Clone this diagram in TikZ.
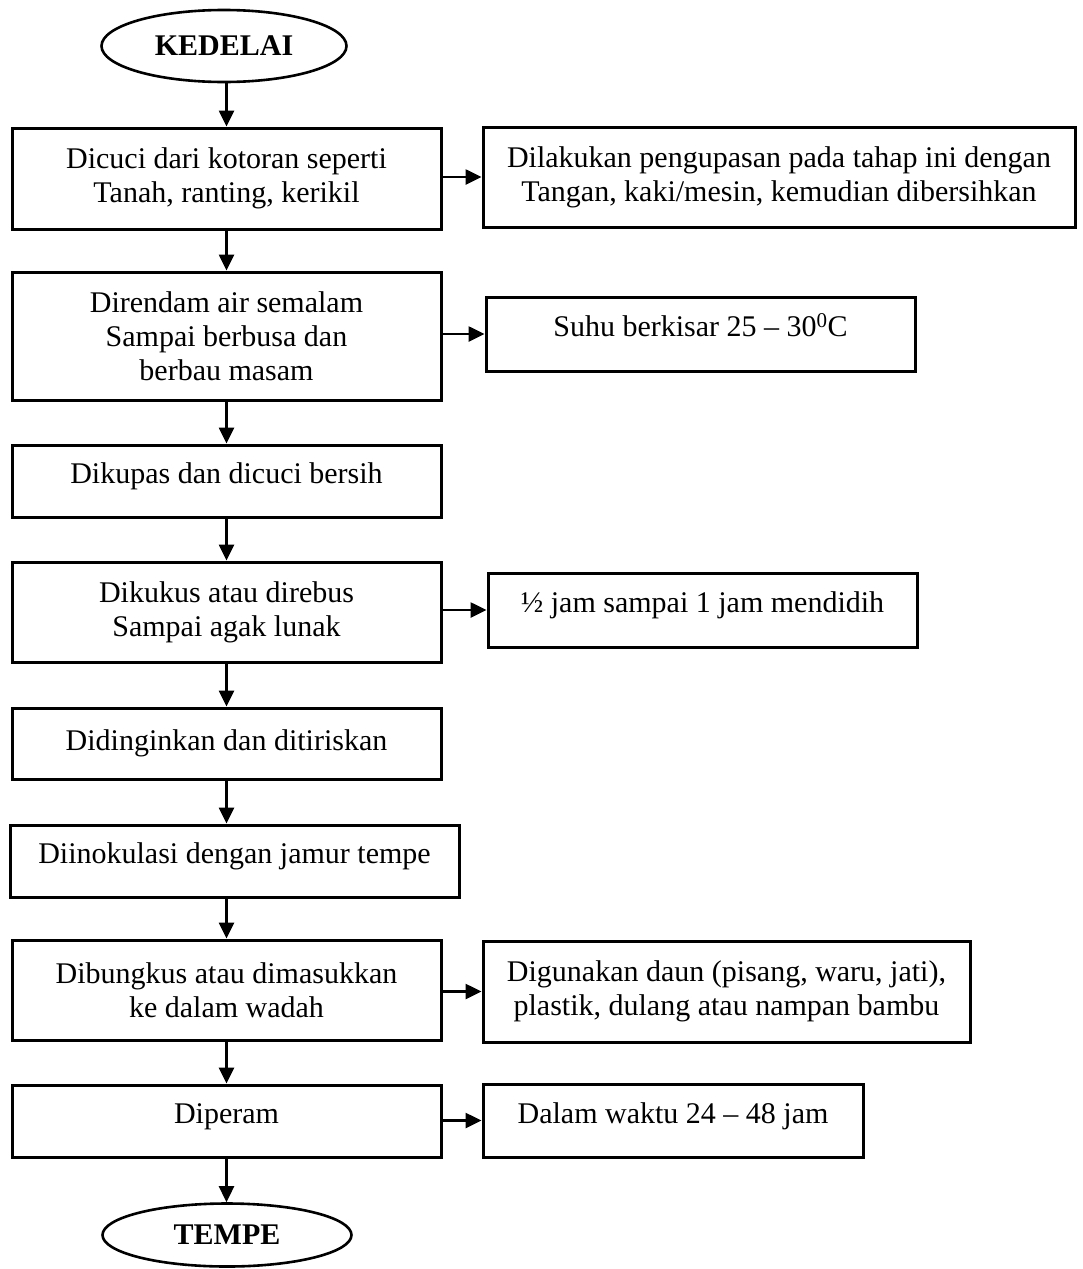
\documentclass[tikz,border=0pt]{standalone}
\usepackage{fontspec}
\setmainfont{Liberation Serif}
\usetikzlibrary{arrows.meta,shapes.geometric}
\definecolor{custcol_0_0_0}{RGB}{0, 0, 0}
\tikzset{
  stepbox/.style={draw=custcol_0_0_0, line width=3pt, rectangle, align=center, inner sep=0pt,
    font=\fontsize{30pt}{34pt}\selectfont},
  raised/.style={text height=21pt, text depth=16pt},
  endcap/.style={draw=custcol_0_0_0, line width=2.6pt, ellipse, inner sep=0pt,
    font=\fontsize{30pt}{34pt}\selectfont\bfseries},
  flowarrow/.style={draw=custcol_0_0_0, line width=2.6pt, -{Triangle[length=16pt,width=15pt]}}
}
\begin{document}
\begin{tikzpicture}[x=1pt,y=-1pt]
\useasboundingbox (0,0) rectangle (1083,1269);
\node[endcap, minimum width=245, minimum height=72] (kedelai) at (224,46) {KEDELAI};
\node[stepbox, minimum width=429, minimum height=101] (cuci) at (226.5,178.5) {Dicuci dari kotoran seperti\\Tanah, ranting, kerikil};
\node[stepbox, minimum width=592, minimum height=100] (kupasTangan) at (779,177) {Dilakukan pengupasan pada tahap ini dengan\\Tangan, kaki/mesin, kemudian dibersihkan};
\node[stepbox, minimum width=429, minimum height=128] (rendam) at (226.5,336) {Direndam air semalam\\Sampai berbusa dan\\berbau masam};
\node[stepbox, raised, minimum width=429, minimum height=74] (suhu) at (700.5,334) {Suhu berkisar 25 -- 30\textsuperscript{0}C};
\node[stepbox, raised, minimum width=429, minimum height=72] (kupas) at (226.5,481) {Dikupas dan dicuci bersih};
\node[stepbox, minimum width=429, minimum height=100] (kukus) at (226.5,612) {Dikukus atau direbus\\Sampai agak lunak};
\node[stepbox, raised, minimum width=429, minimum height=74] (rebusWaktu) at (702.5,610) {½ jam sampai 1 jam mendidih};
\node[stepbox, minimum width=429, minimum height=71] (dingin) at (226.5,743.5) {Didinginkan dan ditiriskan};
\node[stepbox, raised, minimum width=449, minimum height=72] (inokulasi) at (234.5,861) {Diinokulasi dengan jamur tempe};
\node[stepbox, minimum width=429, minimum height=100] (bungkus) at (226.5,990) {Dibungkus atau dimasukkan\\ke dalam wadah};
\node[stepbox, minimum width=487, minimum height=101] (daun) at (726.5,991.5) {Digunakan daun (pisang, waru, jati),\\plastik, dulang atau nampan bambu};
\node[stepbox, raised, minimum width=429, minimum height=72] (peram) at (226.5,1121) {Diperam};
\node[stepbox, raised, minimum width=380, minimum height=73] (waktuPeram) at (673,1120.5) {Dalam waktu 24 -- 48 jam};
\node[endcap, minimum width=249, minimum height=63] (tempe) at (227,1235) {TEMPE};
% alur utama
\draw[flowarrow] (kedelai.south -| cuci) -- (cuci.north);
\draw[flowarrow] (cuci) -- (rendam);
\draw[flowarrow] (rendam) -- (kupas);
\draw[flowarrow] (kupas) -- (kukus);
\draw[flowarrow] (kukus) -- (dingin);
\draw[flowarrow] (dingin.south) -- (dingin.south |- inokulasi.north);
\draw[flowarrow] (dingin.south |- inokulasi.south) -- (bungkus.north);
\draw[flowarrow] (bungkus) -- (peram);
\draw[flowarrow] (peram.south) -- (peram.south |- tempe.north);
% keterangan samping
\draw[flowarrow] (cuci.east |- kupasTangan) -- (kupasTangan.west);
\draw[flowarrow] (rendam.east |- suhu) -- (suhu.west);
\draw[flowarrow] (kukus.east |- rebusWaktu) -- (rebusWaktu.west);
\draw[flowarrow] (bungkus.east |- daun) -- (daun.west);
\draw[flowarrow] (peram.east |- waktuPeram) -- (waktuPeram.west);
\end{tikzpicture}
\end{document}
